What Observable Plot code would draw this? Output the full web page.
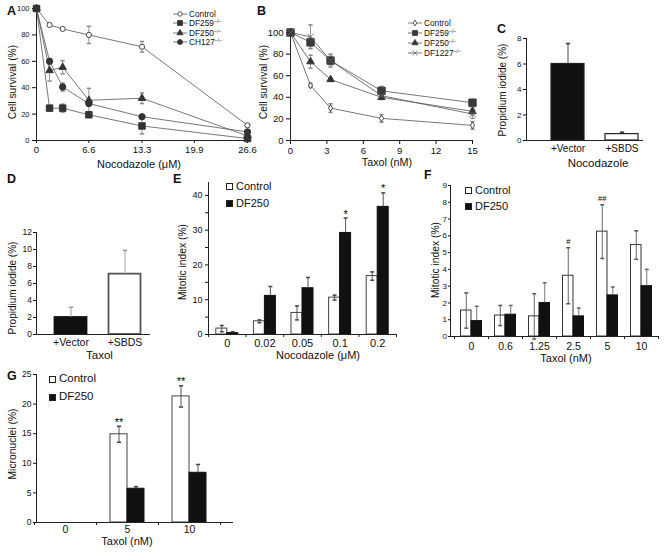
<!DOCTYPE html>
<html><head><meta charset="utf-8">
<script src="https://cdn.jsdelivr.net/npm/d3@7"></script>
<script src="https://cdn.jsdelivr.net/npm/@observablehq/plot@0.6"></script>
<style>
body{margin:0;background:#fff;}
#fig{position:relative;width:665px;height:557px;overflow:hidden;font-family:"Liberation Sans",Arial,sans-serif;color:#111;background:#fff;}
.abs{position:absolute;}
.lbl{position:absolute;line-height:1;white-space:nowrap;}
.letter{position:absolute;font-weight:bold;font-size:12.5px;line-height:1;}
sup{font-size:0.62em;vertical-align:0;position:relative;top:-0.55em;}
</style></head><body><div id="fig"></div>
<script>
// ---------- DATA ----------
// Panel A: cell survival vs nocodazole
const aDoses = [0, 1.65, 3.3, 6.6, 13.3, 26.6];
const aXTicks = [0, 6.6, 13.3, 19.9, 26.6];
const aNames = ["Control", "DF259", "DF250", "CH127"];
const aGeno = ["", "−/−", "−/−", "−/−"];
const aControl = [100, 87.5, 84.5, 80, 71, 11.5];
const aControlErr = [0, 0.8, 0.8, 6.5, 4, 0.8];
const aDF259 = [100, 24.5, 24.5, 19.5, 11, 1.5];
const aDF259Err = [0, 1, 3, 1.5, 6, 1];
const aDF250 = [100, 53, 55.5, 30.5, 32, 3.5];
const aDF250Err = [0, 8, 5, 9, 4, 1];
const aCH127 = [100, 60, 40.5, 28, 18, 6.5];
const aCH127Err = [0, 2, 3, 2, 1.5, 1];

// Panel B: cell survival vs taxol
const bDoses = [0, 1.65, 3.3, 7.5, 15];
const bXTicks = [0, 3, 6, 9, 12, 15];
const bNames = ["Control", "DF259", "DF250", "DF1227"];
const bGeno = ["", "−/−", "−/−", "−/−"];
const bControl = [100, 51, 30, 20.5, 14];
const bControlErr = [0, 1.5, 4, 3.5, 3.5];
const bDF259 = [100, 91, 74, 46, 35];
const bDF259Err = [0, 4, 4, 4, 3];
const bDF250 = [100, 73, 56.5, 40, 27];
const bDF250Err = [0, 6, 1.5, 2, 3];
const bDF1227 = [100, 96, 74, 41.5, 24.5];
const bDF1227Err = [0, 11, 6, 3, 4];

const yLineTicks = [0, 20, 40, 60, 80, 100];

// Panel C / D: propidium iodide
const piCats = ["+Vector", "+SBDS"];
const cValues = [6.0, 0.5];
const cErr = [1.6, 0.15];
const cTicks = [0, 2, 4, 6, 8];
const dValues = [2.0, 7.1];
const dErr = [1.2, 2.8];
const dTicks = [0, 2, 4, 6, 8, 10, 12];

// Panel E: mitotic index vs nocodazole
const eCats = ["0", "0.02", "0.05", "0.1", "0.2"];
const eControl = [1.7, 3.8, 6.2, 10.6, 16.8];
const eControlErr = [0.9, 0.4, 2.0, 0.7, 1.2];
const eDF250 = [0.4, 11.1, 13.3, 29.2, 36.7];
const eDF250Err = [0.4, 2.7, 3.1, 4.3, 4.0];
const eDF250Sig = ["", "", "", "*", "*"];
const eTicks = [0, 5, 10, 15, 20, 25, 30, 35, 40];

// Panel F: mitotic index vs taxol
const fCats = ["0", "0.6", "1.25", "2.5", "5", "10"];
const fControl = [1.55, 1.25, 1.2, 3.62, 6.25, 5.45];
const fControlErr = [1.05, 0.6, 1.35, 1.67, 1.6, 0.85];
const fDF250 = [0.92, 1.3, 2.0, 1.2, 2.45, 3.0];
const fDF250Err = [0.88, 0.55, 1.2, 0.5, 0.5, 1.0];
const fControlSig = ["", "", "", "#", "##", ""];
const fTicks = [0, 1, 2, 3, 4, 5, 6, 7, 8, 9];

// Panel G: micronuclei vs taxol
const gCats = ["0", "5", "10"];
const gControl = [0, 14.9, 21.3];
const gControlErr = [0, 1.35, 1.8];
const gDF250 = [0, 5.7, 8.4];
const gDF250Err = [0, 0.35, 1.4];
const gControlSig = ["", "**", "**"];
const gTicks = [0, 5, 10, 15, 20, 25];

const barSeries = ["Control", "DF250"];

// ---------- HELPERS ----------
const FONT = '"Liberation Sans", Arial, sans-serif';
const fig = document.getElementById("fig");
const cap = {draw(ctx, size) { const w = Math.sqrt(size) / 2; ctx.moveTo(-w, 0); ctx.lineTo(w, 0); }};
const D3SYM = {circle: d3.symbolCircle, square: d3.symbolSquare, triangle: d3.symbolTriangle, diamond: d3.symbolDiamond, times: d3.symbolTimes};

function place(node, left, top) {
  const d = document.createElement("div");
  d.className = "abs"; d.style.left = left + "px"; d.style.top = top + "px";
  d.appendChild(node); fig.appendChild(d);
}
function label(str, cx, cy, fs, rot = 0) {
  const d = document.createElement("div");
  d.className = "lbl"; d.style.left = cx + "px"; d.style.top = cy + "px"; d.style.fontSize = fs + "px";
  d.style.transform = `translate(-50%,-50%) rotate(${rot}deg)`;
  d.innerHTML = str; fig.appendChild(d);
}
function letter(ch, x, capTop) {
  const d = document.createElement("div");
  d.className = "letter"; d.style.left = x + "px"; d.style.top = (capTop - 1.7) + "px";
  d.textContent = ch; fig.appendChild(d);
}
const style = {fontFamily: FONT, color: "#111", background: "transparent", overflow: "visible"};

function linePanel(o) {
  const rows = o.series.flatMap(s => o.doses.map((d, i) => ({series: s.name, x: d, y: s.values[i], e: s.err[i]})));
  const er = rows.filter(d => d.e > 0);
  const plot = Plot.plot({
    width: o.width, height: o.height,
    marginLeft: o.mL, marginRight: o.mR, marginTop: o.mT, marginBottom: o.mB,
    style,
    x: {domain: o.xDomain}, y: {domain: o.yDomain},
    marks: [
      Plot.axisX({ticks: o.xTicks, tickFormat: o.xFmt, tickSize: o.xTS, tickPadding: o.xTP, fontSize: o.xFS, label: null}),
      Plot.axisY({ticks: yLineTicks, tickSize: o.yTS, tickPadding: o.yTP, fontSize: o.yFS, label: null}),
      Plot.ruleY([0], {stroke: "#222"}),
      Plot.ruleX([0], {stroke: "#222"}),
      Plot.line(rows, {x: "x", y: "y", z: "series", stroke: "#555", strokeWidth: 0.8}),
      Plot.ruleX(er, {x: "x", y1: d => d.y - d.e, y2: d => d.y + d.e, stroke: "#8a8a8a", strokeWidth: 0.9}),
      Plot.dot(er, {x: "x", y: d => d.y + d.e, symbol: cap, r: 2.4, stroke: "#8a8a8a", fill: "none"}),
      Plot.dot(er, {x: "x", y: d => d.y - d.e, symbol: cap, r: 2.4, stroke: "#8a8a8a", fill: "none"}),
      ...o.series.map(s => Plot.dot(rows.filter(r => r.series === s.name), {
        x: "x", y: "y", symbol: s.symbol, r: s.r, fill: s.fill, stroke: s.stroke, strokeWidth: s.sw || 0.9
      }))
    ]
  });
  place(plot, o.left, o.top);
}

function barPanel(o) {
  const n = o.cats.length;
  const step = (o.range[1] - o.range[0]) / n;
  const yPx = (o.height - o.mT - o.mB) / (o.yDomain[1] - o.yDomain[0]);
  const marks = [
    Plot.axisX({tickSize: 0, tickPadding: o.xTP, fontSize: o.xFS, label: null}),
    Plot.axisY({ticks: o.yTicks, tickFormat: o.yFmt, tickSize: o.yTS, tickPadding: o.yTP, fontSize: o.yFS, label: null}),
  ];
  for (const g of o.groups) {
    const rows = o.cats.map((c, i) => ({c, v: g.values[i], e: g.err[i], m: g.sig ? g.sig[i] : ""}));
    const il = step / 2 + g.offset - g.w / 2, ir = step / 2 - g.offset - g.w / 2;
    if (g.stroke !== "none") {
      marks.push(Plot.barY(rows.filter(d => d.v > 0), {x: "c", y: "v", fill: g.fill, stroke: g.stroke, strokeWidth: g.sw, insetLeft: il, insetRight: ir}));
      const er = rows.filter(d => d.e > 0);
      marks.push(Plot.ruleX(er, {x: "c", dx: g.offset, y1: d => g.up ? d.v : d.v - d.e, y2: d => d.v + d.e, stroke: g.errColor, strokeWidth: 0.9}));
      marks.push(Plot.dot(er, {x: "c", dx: g.offset, y: d => d.v + d.e, symbol: cap, r: g.capR || 2.4, stroke: g.errColor, fill: "none"}));
      if (!g.up) marks.push(Plot.dot(er, {x: "c", dx: g.offset, y: d => d.v - d.e, symbol: cap, r: g.capR || 2.4, stroke: g.errColor, fill: "none"}));
    }
    if (g.sig) marks.push(Plot.text(rows.filter(d => d.m), {x: "c", dx: g.offset, y: d => d.v + d.e, dy: g.sigDy || -7, text: "m", fontSize: g.sigFS || 10, fill: "black"}));
  }
  if (o.boundaryTicks) {
    const t = 3 / yPx;
    marks.push(Plot.ruleX(o.cats, {x: d => d, y1: 0, y2: -t, dx: -step / 2, stroke: "#222"}));
    marks.push(Plot.ruleX([o.cats[n - 1]], {x: d => d, y1: 0, y2: -t, dx: step / 2, stroke: "#222"}));
  }
  marks.push(Plot.ruleY([0], {stroke: "#222"}));
  marks.push(Plot.frame({anchor: "left", stroke: "#222"}));
  const plot = Plot.plot({
    width: o.width, height: o.height,
    marginLeft: o.mL, marginRight: o.mR, marginTop: o.mT, marginBottom: o.mB,
    style,
    x: {type: "band", domain: o.cats, range: o.range, padding: 0, round: false},
    y: {domain: o.yDomain},
    marks
  });
  place(plot, o.left, o.top);
}

function lineLegend(names, geno, syms, x, ys, fs) {
  names.forEach((name, i) => {
    const row = document.createElement("div");
    row.style.cssText = `position:absolute;left:${x}px;top:${ys[i] - 6}px;height:12px;display:flex;align-items:center;font-size:${fs}px;line-height:1;white-space:nowrap;`;
    const ns = "http://www.w3.org/2000/svg";
    const svg = document.createElementNS(ns, "svg");
    svg.setAttribute("width", 15); svg.setAttribute("height", 12);
    const ln = document.createElementNS(ns, "line");
    ln.setAttribute("x1", 0); ln.setAttribute("x2", 14); ln.setAttribute("y1", 6); ln.setAttribute("y2", 6);
    ln.setAttribute("stroke", "#555"); ln.setAttribute("stroke-width", 0.8);
    const p = document.createElementNS(ns, "path");
    const s = syms[i];
    p.setAttribute("d", d3.symbol(D3SYM[s.symbol], Math.PI * s.lr * s.lr)());
    p.setAttribute("transform", "translate(7,6)");
    p.setAttribute("fill", s.fill); p.setAttribute("stroke", s.stroke); p.setAttribute("stroke-width", 0.8);
    svg.append(ln, p);
    const sp = document.createElement("span");
    sp.style.marginLeft = "1px";
    sp.innerHTML = name + (geno[i] ? `<sup>${geno[i]}</sup>` : "");
    row.append(svg, sp);
    fig.appendChild(row);
  });
}
function boxLegend(names, fills, x, ys, fs) {
  names.forEach((name, i) => {
    const row = document.createElement("div");
    row.style.cssText = `position:absolute;left:${x}px;top:${ys[i] - 7}px;height:14px;display:flex;align-items:center;font-size:${fs}px;line-height:1;white-space:nowrap;`;
    const b = document.createElement("span");
    b.style.cssText = `display:inline-block;width:5px;height:5px;border:0.8px solid #222;background:${fills[i]};margin-right:3px;`;
    const sp = document.createElement("span"); sp.textContent = name;
    row.append(b, sp); fig.appendChild(row);
  });
}

// ---------- PANEL A ----------
const aSyms = [
  {symbol: "circle", r: 2.6, lr: 2.2, fill: "white", stroke: "#333"},
  {symbol: "square", r: 3.7, lr: 2.8, fill: "#333", stroke: "#333"},
  {symbol: "triangle", r: 2.8, lr: 2.3, fill: "#333", stroke: "#333"},
  {symbol: "circle", r: 3.2, lr: 2.5, fill: "#333", stroke: "#333"}
];
const aVals = [aControl, aDF259, aDF250, aCH127], aErrs = [aControlErr, aDF259Err, aDF250Err, aCH127Err];
linePanel({
  left: 0, top: 0, width: 260, height: 178, mL: 36, mR: 13, mT: 8, mB: 38,
  xDomain: [0, 26.6], yDomain: [0, 100], xTicks: aXTicks, xFmt: d => d === 0 ? "0" : d.toFixed(1),
  xTS: 3, xTP: 2.5, xFS: 9.5, yTS: 4, yTP: 3, yFS: 7.5, doses: aDoses,
  series: aNames.map((nm, i) => ({name: nm, values: aVals[i], err: aErrs[i], ...aSyms[i]}))
});
lineLegend(aNames, aGeno, aSyms, 173, [14, 23.4, 32.8, 42.3], 8.3);
label("Cell survival (%)", 13, 82, 10.3, -90);
label("Nocodazole (μM)", 139, 164, 11);
letter("A", 7, 7);

// ---------- PANEL B ----------
const bSyms = [
  {symbol: "diamond", r: 2.1, lr: 1.8, fill: "white", stroke: "#333"},
  {symbol: "square", r: 4.2, lr: 2.8, fill: "#3a3a3a", stroke: "#3a3a3a"},
  {symbol: "triangle", r: 2.8, lr: 2.3, fill: "#333", stroke: "#333"},
  {symbol: "times", r: 3.0, lr: 2.4, fill: "none", stroke: "#666", sw: 0.9}
];
const bVals = [bControl, bDF259, bDF250, bDF1227], bErrs = [bControlErr, bDF259Err, bDF250Err, bDF1227Err];
linePanel({
  left: 240, top: 0, width: 250, height: 178, mL: 50, mR: 18, mT: 29, mB: 38,
  xDomain: [0, 15], yDomain: [0, 102.8], xTicks: bXTicks, xFmt: d => d,
  xTS: 4, xTP: 3, xFS: 9.5, yTS: 4, yTP: 3, yFS: 9.5, doses: bDoses,
  series: bNames.map((nm, i) => ({name: nm, values: bVals[i], err: bErrs[i], ...bSyms[i]}))
});
lineLegend(bNames, bGeno, bSyms, 408, [23.3, 33, 43, 52.7], 8.3);
label("Cell survival (%)", 264, 82, 10.3, -90);
label("Taxol (nM)", 387, 162, 10.8);
letter("B", 257, 7);

// ---------- PANEL C ----------
barPanel({
  left: 490, top: 0, width: 175, height: 175, mL: 36, mR: 22, mT: 38, mB: 35,
  cats: piCats, range: [50.5, 158.5], yDomain: [0, 8], yTicks: cTicks, yFmt: d => d,
  xTP: 4, xFS: 10, yTS: 3, yTP: 2, yFS: 8,
  groups: [{values: cValues, err: cErr, fill: d => d.c === "+Vector" ? "#111" : "white", stroke: "#222", sw: 1.2, w: 33, offset: 0, up: true, errColor: "#333"}]
});
label("Propidium iodide (%)", 503, 90, 10, -90);
label("Nocodazole", 598, 164, 11.5);
letter("C", 497, 25);

// ---------- PANEL D ----------
barPanel({
  left: 0, top: 180, width: 165, height: 190, mL: 36, mR: 15, mT: 52, mB: 36,
  cats: piCats, range: [43.5, 151.5], yDomain: [0, 12], yTicks: dTicks, yFmt: d => d,
  xTP: 4.5, xFS: 10.5, yTS: 3, yTP: 1.5, yFS: 8.5,
  groups: [{values: dValues, err: dErr, fill: d => d.c === "+Vector" ? "#111" : "white", stroke: d => d.c === "+Vector" ? "#111" : "#555", sw: 1.8, w: 32, offset: 0, up: true, errColor: "#9a9a9a"}]
});
label("Propidium iodide (%)", 12.5, 288, 10, -90);
label("Taxol", 99.5, 356, 11.5);
letter("D", 7, 175);

// ---------- PANEL E ----------
barPanel({
  left: 160, top: 180, width: 245, height: 190, mL: 48, mR: 9, mT: 2, mB: 36,
  cats: eCats, range: [48, 236], yDomain: [0, 43.7], yTicks: eTicks, yFmt: d => d % 10 ? "" : d,
  xTP: 5, xFS: 11, yTS: 3, yTP: 3, yFS: 9, boundaryTicks: true,
  groups: [
    {values: eControl, err: eControlErr, fill: "white", stroke: "#444", sw: 1, w: 11, offset: -5.5, up: false, errColor: "#444", capR: 2.2},
    {values: eDF250, err: eDF250Err, fill: "#111", stroke: "#111", sw: 1, w: 11, offset: 5.5, up: true, errColor: "#444", sig: eDF250Sig, sigDy: -4, sigFS: 11, capR: 2.2}
  ]
});
boxLegend(barSeries, ["white", "#111"], 226, [186, 203.5], 11);
label("Mitotic index (%)", 182.5, 262, 10.3, -90);
label("Nocodazole (μM)", 318, 354.5, 11);
letter("E", 173, 175);

// ---------- PANEL F ----------
barPanel({
  left: 405, top: 180, width: 260, height: 190, mL: 45, mR: 7, mT: 5, mB: 34,
  cats: fCats, range: [49, 253], yDomain: [0, 9], yTicks: fTicks, yFmt: d => d,
  xTP: 6, xFS: 10.5, yTS: 2, yTP: 1.5, yFS: 8, boundaryTicks: true,
  groups: [
    {values: fControl, err: fControlErr, fill: "white", stroke: "#333", sw: 1, w: 10.5, offset: -5.25, up: false, errColor: "#555", sig: fControlSig, sigDy: -6, sigFS: 7.5, capR: 2.2},
    {values: fDF250, err: fDF250Err, fill: "#111", stroke: "#111", sw: 1, w: 10.5, offset: 5.25, up: true, errColor: "#666", capR: 2.2}
  ]
});
boxLegend(barSeries, ["white", "#111"], 465, [190, 206.5], 11);
label("Mitotic index (%)", 436, 260, 10.3, -90);
label("Taxol (nM)", 566, 358, 11);
letter("F", 424, 171);

// ---------- PANEL G ----------
barPanel({
  left: 0, top: 362, width: 245, height: 195, mL: 36, mR: 12, mT: 12, mB: 35,
  cats: gCats, range: [34, 220], yDomain: [0, 25], yTicks: gTicks, yFmt: d => d,
  xTP: 3, xFS: 10.5, yTS: 3, yTP: 2, yFS: 8.5, boundaryTicks: true,
  groups: [
    {values: gControl, err: gControlErr, fill: "white", stroke: "#444", sw: 1, w: 17, offset: -8.5, up: false, errColor: "#444"},
    {values: gDF250, err: gDF250Err, fill: "#111", stroke: "#111", sw: 1, w: 17, offset: 8.5, up: true, errColor: "#444"},
    {values: gControl, err: gControlErr, fill: "none", stroke: "none", sw: 0, w: 17, offset: -8.5, up: true, errColor: "none", sig: gControlSig, sigDy: -4, sigFS: 11}
  ]
});
boxLegend(barSeries, ["white", "#111"], 49, [379, 397], 11.5);
label("Micronuclei (%)", 12.5, 444, 10.3, -90);
label("Taxol (nM)", 127, 541, 11);
letter("G", 7, 372);
</script></body></html>
